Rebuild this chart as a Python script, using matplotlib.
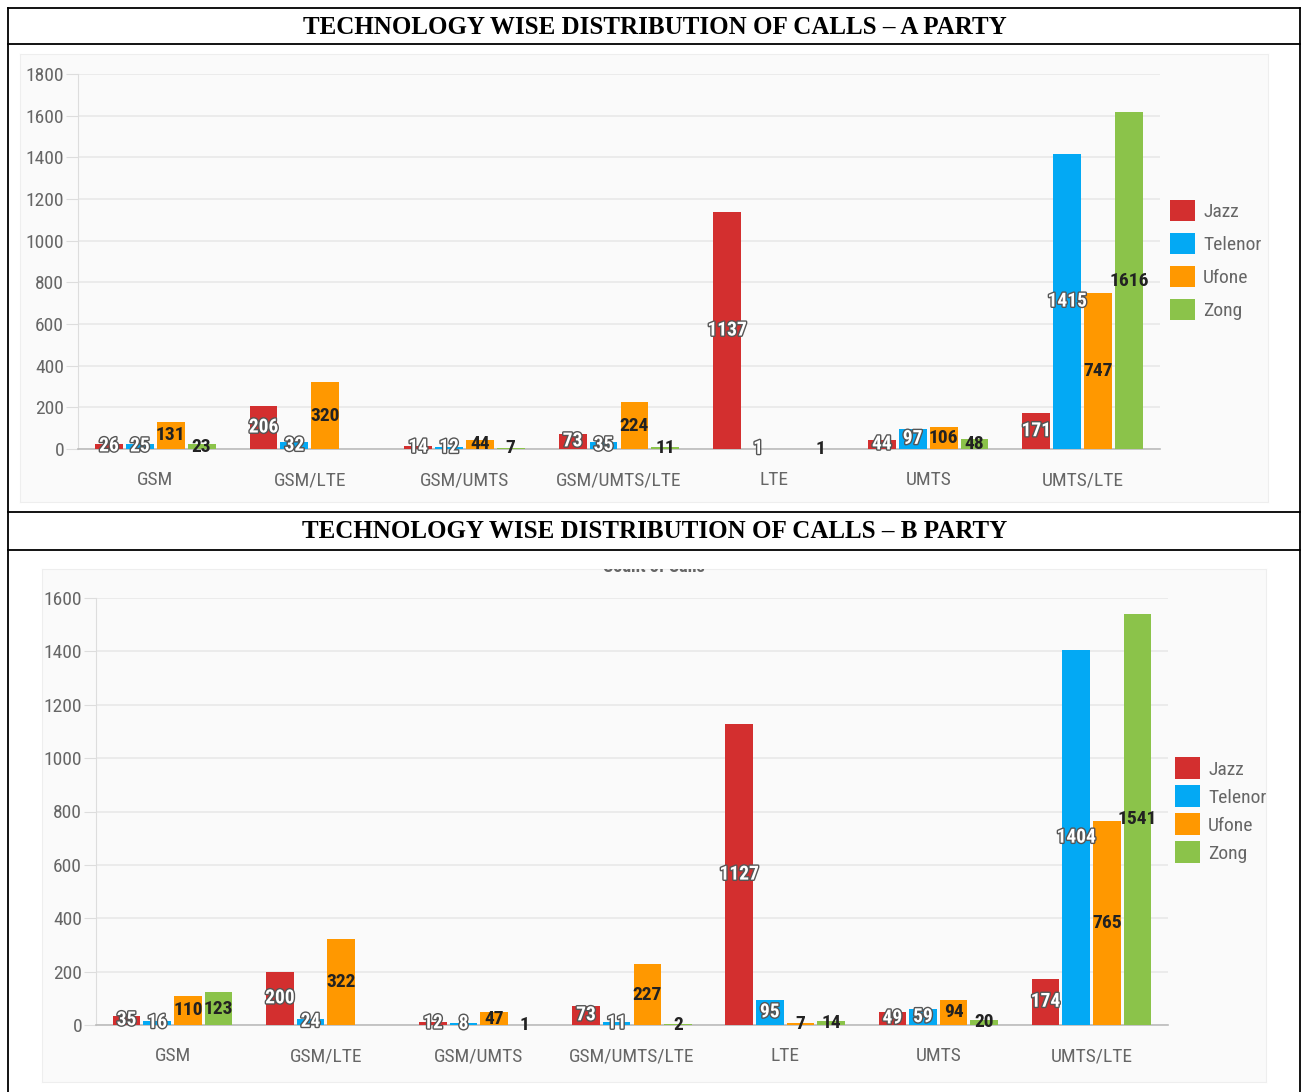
import matplotlib
matplotlib.use("Agg")
import matplotlib.pyplot as plt
import matplotlib.patheffects as pe
from matplotlib.lines import Line2D
import numpy as np

# data
categories = ["GSM", "GSM/LTE", "GSM/UMTS", "GSM/UMTS/LTE", "LTE", "UMTS", "UMTS/LTE"]
operators = ["Jazz", "Telenor", "Ufone", "Zong"]
colors = ["#d32f2f", "#03a9f4", "#ff9800", "#8bc34a"]

a_jazz = [26, 206, 14, 73, 1137, 44, 171]
a_telenor = [25, 32, 12, 35, 1, 97, 1415]
a_ufone = [131, 320, 44, 224, 0, 106, 747]
a_zong = [23, 0, 7, 11, 1, 48, 1616]

b_jazz = [35, 200, 12, 73, 1127, 49, 174]
b_telenor = [16, 24, 8, 11, 95, 59, 1404]
b_ufone = [110, 322, 47, 227, 7, 94, 765]
b_zong = [123, 0, 1, 2, 14, 20, 1541]

W, H = 1304, 1092
fig = plt.figure(figsize=(W / 100, H / 100), dpi=100)

def box(x0, y0, x1, y1):
    return [x0 / W, 1 - y1 / H, (x1 - x0) / W, (y1 - y0) / H]

NARROW = ["Roboto Condensed", "Liberation Sans Narrow", "Roboto"]
GRAY = "#666666"

# panel backgrounds (drawn as axes so they sit under the charts)
for (x0, y0, x1, y1) in [(20, 54, 1268, 502), (42, 569, 1266, 1082)]:
    bg = fig.add_axes(box(x0, y0, x1, y1), zorder=-5)
    bg.set_facecolor("#fafafa")
    bg.set_xticks([])
    bg.set_yticks([])
    for s in bg.spines.values():
        s.set_color("#eeeeee")
        s.set_linewidth(0.8)
    if y0 > 500:
        bg.text(0.5, 1.003, "Count of Calls", transform=bg.transAxes, ha="center", va="center",
                fontsize=13, color=GRAY, family=NARROW, fontweight="bold", clip_on=True)

# table borders and titles
def hline(y, x0=8, x1=1300):
    fig.add_artist(Line2D([x0 / W, x1 / W], [1 - y / H, 1 - y / H], color="black", lw=1.3))

def vline(x, y0=8, y1=1092):
    fig.add_artist(Line2D([x / W, x / W], [1 - y0 / H, 1 - y1 / H], color="black", lw=1.3))

for y in [8, 44, 512, 550]:
    hline(y)
vline(8)
vline(1300)

fig.text(655 / W, 1 - 27 / H, "TECHNOLOGY WISE DISTRIBUTION OF CALLS \u2013 A PARTY",
         ha="center", va="center", fontsize=18, fontweight="bold", family="Liberation Serif")
fig.text(655 / W, 1 - 532 / H, "TECHNOLOGY WISE DISTRIBUTION OF CALLS \u2013 B PARTY",
         ha="center", va="center", fontsize=18, fontweight="bold", family="Liberation Serif")


def draw_chart(rect, series, ymax, legend_xy, legend_spacing):
    ax = fig.add_axes(rect)
    ax.patch.set_alpha(0)
    x = np.arange(len(categories))
    width = 0.18
    step = 0.2
    for i, (vals, col, name) in enumerate(zip(series, colors, operators)):
        pos = x + (i - 1.5) * step
        ax.bar(pos, vals, width, color=col, label=name, zorder=3)
        for p, v in zip(pos, vals):
            if v == 0:
                continue
            if i < 2:
                ax.text(p, v / 2, str(v), ha="center", va="center", fontsize=14,
                        color="white", family=NARROW, fontweight="bold", zorder=4,
                        path_effects=[pe.withStroke(linewidth=2, foreground="#555555")])
            else:
                ax.text(p, v / 2, str(v), ha="center", va="center", fontsize=14,
                        color="#222222", family=NARROW, fontweight="bold", zorder=4)
    ax.set_xlim(-0.5, len(categories) - 0.5)
    ax.set_ylim(0, ymax)
    ax.set_yticks(np.arange(0, ymax + 1, 200))
    ax.set_xticks(x)
    ax.set_xticklabels(categories)
    ax.grid(axis="y", color="#e8e8e8", lw=1.2, zorder=0)
    for s in ["top", "right"]:
        ax.spines[s].set_visible(False)
    ax.spines["left"].set_color("#dddddd")
    ax.spines["bottom"].set_color("#bbbbbb")
    ax.spines["bottom"].set_linewidth(1.2)
    ax.tick_params(axis="y", length=9, color="#dddddd", labelcolor=GRAY, labelsize=14, pad=1)
    ax.tick_params(axis="x", length=0, labelcolor=GRAY, labelsize=14, pad=16)
    for t in ax.get_xticklabels() + ax.get_yticklabels():
        t.set_family(NARROW)
    leg = ax.legend(loc="center left", bbox_to_anchor=legend_xy, bbox_transform=fig.transFigure,
                    frameon=False, handlelength=1.3, handleheight=1.3, handletextpad=0.4,
                    borderaxespad=0, borderpad=0,
                    labelspacing=legend_spacing, prop={"family": NARROW, "size": 14})
    for t in leg.get_texts():
        t.set_color(GRAY)
    return ax


draw_chart(box(78, 74, 1160, 449), [a_jazz, a_telenor, a_ufone, a_zong], 1800,
           (1170 / W, 1 - 260 / H), 0.6)
draw_chart(box(96, 598, 1168, 1025), [b_jazz, b_telenor, b_ufone, b_zong], 1600,
           (1175 / W, 1 - 810 / H), 0.35)

fig.savefig("out.png", dpi=100)
